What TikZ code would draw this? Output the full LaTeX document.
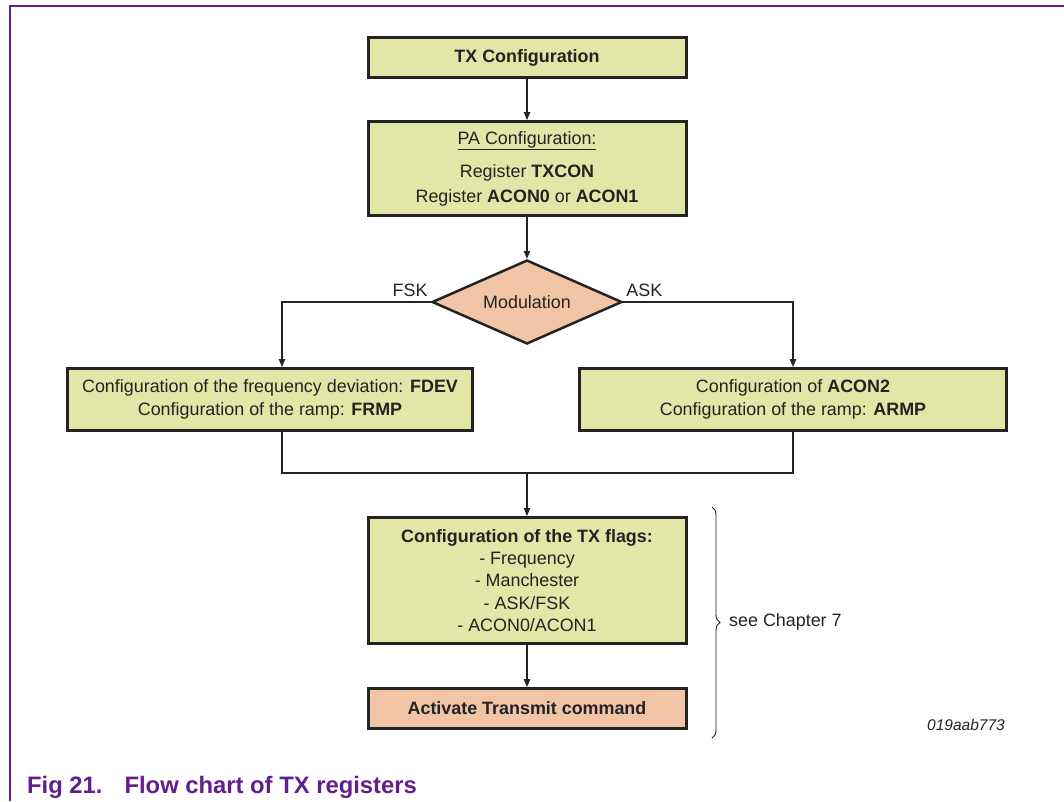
\documentclass[tikz,border=0pt]{standalone}
\usepackage{fontspec}
\setmainfont{Liberation Sans}
\usetikzlibrary{arrows.meta,calc,decorations.pathreplacing,shapes.geometric}
\definecolor{boxgreen}{RGB}{226,230,166}
\definecolor{boxsalmon}{RGB}{242,196,166}
\definecolor{nxppurple}{RGB}{98,30,140}
\definecolor{ink}{RGB}{35,35,35}
\tikzset{
    >={Triangle[length=8pt,width=6.5pt]},
    flow/.style={
        x=1pt,y=-1pt,
        font=\fontsize{17.9}{23}\selectfont,
        block/.append style={align=center,draw=ink,line width=3pt,fill=boxgreen,text=ink,minimum width=318,minimum height=40,inner sep=0pt},
        cmd/.append style={block,fill=boxsalmon},
        decide/.append style={diamond,aspect=2.25,draw=ink,line width=2.5pt,fill=boxsalmon,text=ink,minimum width=190,minimum height=84,inner sep=0pt},
        tag/.append style={text=ink,inner sep=3pt},
        figid/.append style={text=ink,font=\fontsize{15.5}{18}\selectfont\itshape},
        figcap/.append style={text=nxppurple,inner sep=0pt,font=\fontsize{23.8}{28}\selectfont\bfseries},
        wire/.append style={draw=ink,line width=1.1pt}
    }
}

\begin{document}
\begin{tikzpicture}[flow]
    \useasboundingbox (0,0) rectangle (1064,801);
    % frame
    \draw[nxppurple,line width=2pt] (10,801) -- (10,6) -- (1064,6);

    \node[block] (tx) at (527,57.5) {\textbf{TX Configuration}};
    \node[block,minimum height=94,font=\fontsize{17.9}{25}\selectfont] (pa) at (527,168.5) {\underline{PA Configuration:}\\[8pt]
        Register \textbf{TXCON}\\Register \textbf{ACON0} or \textbf{ACON1}};
    \node[decide] (mod) at (527,302) {Modulation};
    \node[tag,anchor=south east,yshift=2pt] (fsk) at (mod.west) {FSK};
    \node[tag,anchor=south west,yshift=2pt] (ask) at (mod.east) {ASK};
    \node[block,minimum width=405,minimum height=62] (fdev) at (270,399.5) {Configuration of the frequency deviation: \textbf{FDEV}\\
        Configuration of the ramp: \textbf{FRMP}};
    \node[block,minimum width=427,minimum height=62] (armp) at (793,399.5) {Configuration of \textbf{ACON2}\\
        Configuration of the ramp: \textbf{ARMP}};
    \coordinate (merge) at (527,473);
    \node[block,minimum height=126,font=\fontsize{17.9}{22.3}\selectfont] (flags) at (527,580.5) {\textbf{Configuration of the TX flags:}\\- Frequency\\
        - Manchester\\- ASK/FSK\\- ACON0/ACON1};
    \node[cmd] (act) at (527,708.5) {\textbf{Activate Transmit command}};

    % connectors
    \draw[wire,->] (tx) -- (pa);
    \draw[wire,->] (pa) -- (mod);
    \draw[wire,->] (mod.west) -| ([xshift=12pt]fdev.north);
    \draw[wire,->] (mod.east) -| (armp.north);
    \draw[wire] ([xshift=12pt]fdev.south) |- (merge) -| (armp.south);
    \draw[wire,->] (merge) -- (flags);
    \draw[wire,->] (flags) -- (act);

    % brace to chapter note
    \coordinate (bt) at (712,507);
    \coordinate (bb) at (712,738);
    \draw[ink,line width=0.9pt,decorate,decoration={brace,amplitude=8pt}] (bt) -- (bb);
    \node[tag,anchor=west] (see) at (726,622) {see Chapter 7};

    \node[figid] (id) at (966,725) {019aab773};
    \node[figcap,anchor=base west] (cap) at (27,793) {Fig 21.\hspace{22pt}Flow chart of TX registers};
\end{tikzpicture}
\end{document}
